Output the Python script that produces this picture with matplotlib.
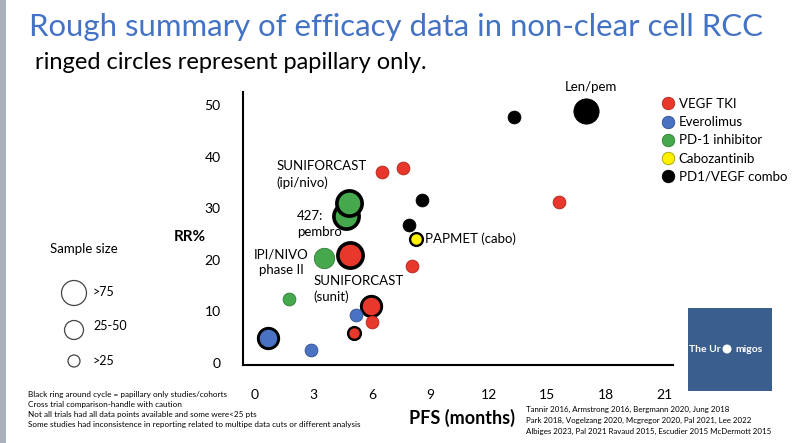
#scatter of PFS vs response rate in non-clear cell RCC trials

import matplotlib.pyplot as plt
from matplotlib.lines import Line2D
from matplotlib.patches import Rectangle, Circle

plt.rcParams['font.family'] = ['Lato', 'DejaVu Sans']

# one entry per trial / cohort
pfs = [17.0, 13.3, 6.5, 7.6, 8.55, 15.6, 4.65, 4.8, 7.9, 8.25, 4.85, 3.55, 8.05, 1.75, 5.95, 5.2, 6.0, 5.1, 0.65, 2.85]
rr = [48.9, 47.7, 37.0, 37.7, 31.6, 31.1, 28.5, 30.9, 26.7, 24.0, 20.9, 20.3, 18.8, 12.3, 11.1, 9.2, 7.9, 5.9, 4.9, 2.6]
drug = ['combo', 'combo', 'tki', 'tki', 'combo', 'tki', 'pd1', 'pd1', 'combo', 'cabo',
        'tki', 'pd1', 'tki', 'pd1', 'tki', 'evero', 'tki', 'tki', 'evero', 'evero']
# 1 = <25 pts, 2 = 25-50, 3 = >75
size_group = [3, 1, 1, 1, 1, 1, 3, 3, 1, 1, 3, 2, 1, 1, 2, 1, 1, 1, 2, 1]
papillary_only = [0, 0, 0, 0, 0, 0, 1, 1, 0, 1, 1, 0, 0, 0, 1, 0, 0, 1, 1, 0]

drug_keys = ['tki', 'evero', 'pd1', 'cabo', 'combo']
drug_names = ['VEGF TKI', 'Everolimus', 'PD-1 inhibitor', 'Cabozantinib', 'PD1/VEGF combo']

x_ticks = [0, 3, 6, 9, 12, 15, 18, 21]
y_ticks = [0, 10, 20, 30, 40, 50]

# labels next to points: text, pfs, rr, alignment
labels = [('Len/pem', 17.25, 53.5, 'center'),
          ('SUNIFORCAST\n(ipi/nivo)', 1.1, 36.5, 'left'),
          ('427:\npembro', 2.15, 26.9, 'left'),
          ('IPI/NIVO\nphase II', 1.35, 19.6, 'center'),
          ('SUNIFORCAST\n(sunit)', 3.0, 14.3, 'left'),
          ('PAPMET (cabo)', 8.7, 24.0, 'left')]

footnotes = ['Black ring around cycle = papillary only studies/cohorts',
             'Cross trial comparison-handle with caution',
             'Not all trials had all data points available and some were<25 pts',
             'Some studies had inconsistence in reporting related to multipe data cuts or different analysis']
references = ['Tannir 2016, Armstrong 2016, Bergmann 2020, Jung 2018',
              'Park 2018, Vogelzang 2020, Mcgregor 2020, Pal 2021, Lee 2022',
              'Albiges 2023, Pal 2021 Ravaud 2015, Escudier 2015 McDermott 2015']

fill = {'tki': '#E8372B', 'evero': '#4A72C2', 'pd1': '#45A84D', 'cabo': '#FFF000', 'combo': '#000000'}
edge = {'tki': '#B02A20', 'evero': '#30508F', 'pd1': '#2F7D35', 'cabo': '#A0A000', 'combo': '#000000'}
area = {1: 85, 2: 215, 3: 330}
ring = {1: 1.7, 2: 2.1, 3: 2.6}

fig = plt.figure(figsize=(8, 4.43), dpi=100)

# background layer in pixel coordinates
deco = fig.add_axes([0, 0, 1, 1], zorder=0)
deco.set_xlim(0, 800)
deco.set_ylim(443, 0)
deco.axis('off')
deco.add_patch(Rectangle((0, 0), 6, 443, color='#A9B1BC', lw=0))

deco.text(29, 36, 'Rough summary of efficacy data in non-clear cell RCC',
          fontsize=22.4, color='#4472C4', va='baseline')
deco.text(35, 69, 'ringed circles represent papillary only.', fontsize=17, va='baseline')

# sample size key
deco.text(50, 249, 'Sample size', fontsize=9.5, va='center')
for cy, r, txt, ty in [(293, 12.5, '>75', 292), (330, 9.5, '25-50', 326), (361, 6.0, '>25', 361)]:
    deco.add_patch(Circle((74, cy), r, fill=False, ec='#444444', lw=0.9))
    deco.text(93, ty, txt, fontsize=9, va='center')

for k, line in enumerate(footnotes):
    deco.text(28, 395 + 10 * k, line, fontsize=5.9, va='center')
for k, line in enumerate(references):
    deco.text(526, 409 + 11 * k, line, fontsize=5.7, va='center')

deco.text(462, 418, 'PFS (months)', fontsize=13, fontweight='bold', ha='center', va='center')
deco.text(190, 237, 'RR%', fontsize=11, fontweight='bold', ha='center', va='center')

# uromigos logo
deco.add_patch(Rectangle((688, 308), 84, 83, color='#3A5F8E', lw=0))
deco.text(705, 349, 'The Ur', fontsize=7.5, color='white', fontweight='bold', ha='center', va='center')
deco.add_patch(Circle((727, 349), 4.5, fc='white', ec='none'))
deco.text(749, 349, 'migos', fontsize=7.5, color='white', fontweight='bold', ha='center', va='center')

# main chart
ax = fig.add_axes([243 / 800, 1 - 365 / 443, 430 / 800, 273 / 443], zorder=2)
ax.set_facecolor('none')
ax.set_xlim(-0.615, 21.44)
ax.set_ylim(-0.39, 52.5)
for side in ['top', 'right']:
    ax.spines[side].set_visible(False)
for side in ['left', 'bottom']:
    ax.spines[side].set_linewidth(1.5)
ax.set_xticks(x_ticks)
ax.set_yticks(y_ticks)
ax.tick_params(axis='both', length=0, labelsize=10)
ax.tick_params(axis='x', pad=17)
ax.tick_params(axis='y', pad=16)

for k in range(len(pfs)):
    d = drug[k]
    if papillary_only[k]:
        ax.scatter(pfs[k], rr[k], s=area[size_group[k]], c=fill[d], edgecolors='black',
                   linewidths=ring[size_group[k]], zorder=3, clip_on=False)
    else:
        ax.scatter(pfs[k], rr[k], s=area[size_group[k]], c=fill[d], edgecolors=edge[d],
                   linewidths=0.6, zorder=3, clip_on=False)

for txt, x, y, ha in labels:
    ax.text(x, y, txt, fontsize=9.5, ha=ha, va='center', multialignment=ha, linespacing=1.35)

handles = []
for d in drug_keys:
    handles.append(Line2D([], [], ls='', marker='o', markersize=9, markerfacecolor=fill[d],
                          markeredgecolor=edge[d], markeredgewidth=0.6))
fig.legend(handles, drug_names, loc='upper left', bbox_to_anchor=(661 / 800, 1 - 98 / 443),
           frameon=False, fontsize=9.5, handletextpad=0.35, labelspacing=0.47,
           handlelength=1.0, borderaxespad=0, borderpad=0)

plt.savefig('out.png', dpi=100)
plt.close()
